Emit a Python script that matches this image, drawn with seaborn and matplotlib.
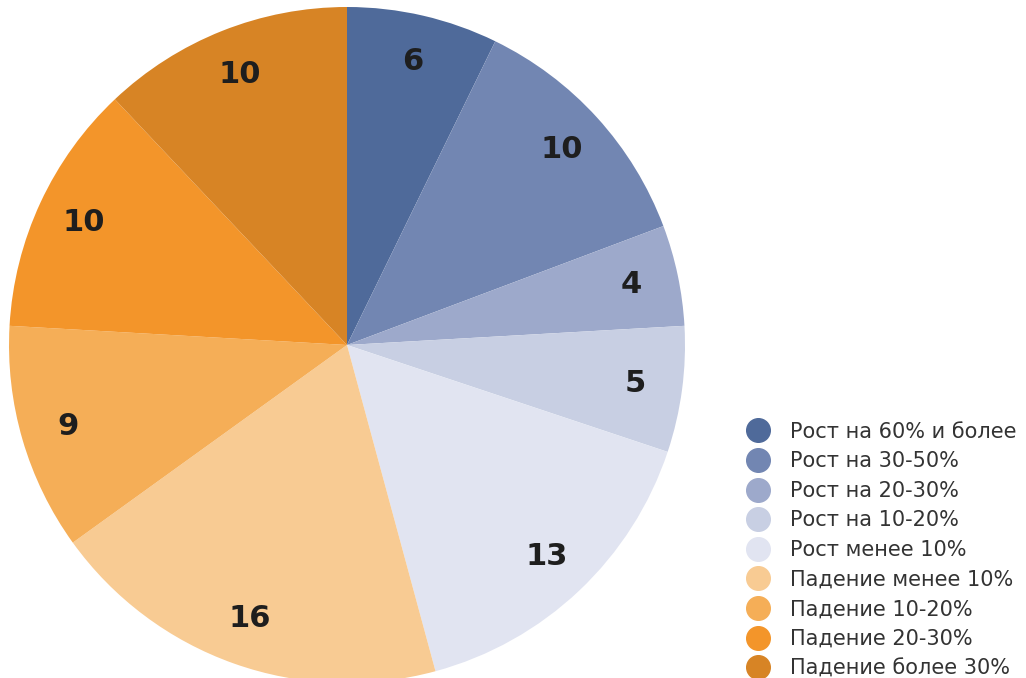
import matplotlib
matplotlib.use("Agg")
import matplotlib.pyplot as plt
from matplotlib.lines import Line2D
import seaborn as sns

# categories and counts, clockwise from 12 o'clock
categories = [
    "Рост на 60% и более",
    "Рост на 30-50%",
    "Рост на 20-30%",
    "Рост на 10-20%",
    "Рост менее 10%",
    "Падение менее 10%",
    "Падение 10-20%",
    "Падение 20-30%",
    "Падение более 30%",
]
counts = [6, 10, 4, 5, 13, 16, 9, 10, 10]
colors = ["#4f6a9a", "#7286b2", "#9da9cb", "#c8cfe3", "#e1e4f1",
          "#f8cb93", "#f5ae57", "#f3952a", "#d78425"]

sns.set_theme(style="white")
plt.rcParams['font.family'] = ['DejaVu Sans']
palette = sns.color_palette(colors)

fig = plt.figure(figsize=(10.26, 6.78), dpi=100)
ax = fig.add_axes([9 / 1026, -5 / 678, 676 / 1026, 676 / 678])

wedges, texts, autotexts = ax.pie(
    counts,
    colors=palette,
    startangle=90,
    counterclock=False,
    autopct=lambda p: "%d" % round(p * sum(counts) / 100),
    pctdistance=0.86,
    wedgeprops=dict(linewidth=0),
    textprops=dict(fontsize=22, fontweight="bold", color="#1e1e1e"),
)
ax.set_xlim(-1, 1)
ax.set_ylim(-1, 1)
ax.set_aspect("equal")
ax.axis("off")

handles = [Line2D([0], [0], marker="o", linestyle="", markersize=17,
                  markerfacecolor=c, markeredgecolor=c) for c in palette]
fig.legend(handles, categories, loc="lower left",
           bbox_to_anchor=(730 / 1026, -15 / 678), frameon=False,
           fontsize=15, labelspacing=0.46, handletextpad=0.9,
           handlelength=1.3, labelcolor="#333333", borderpad=0.2)

fig.savefig("out.png", dpi=100)
